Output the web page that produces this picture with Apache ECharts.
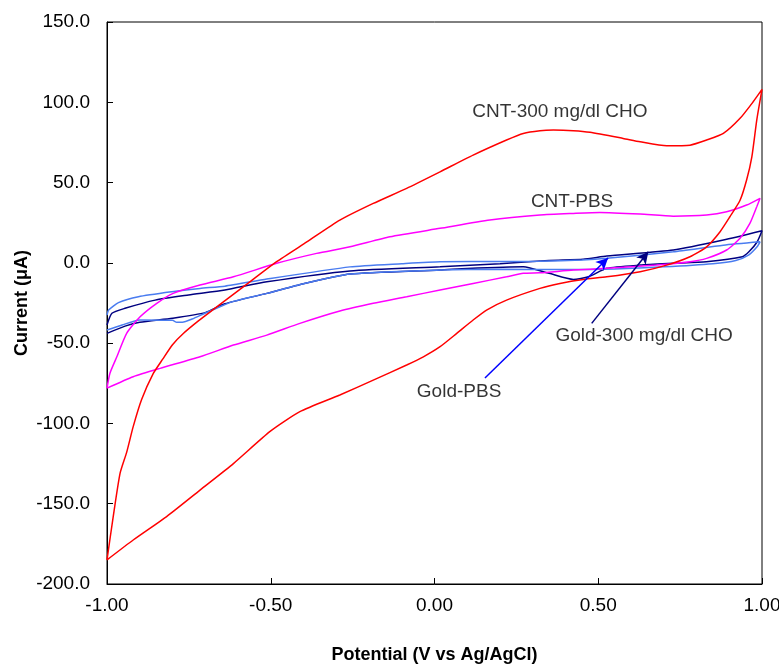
<!DOCTYPE html>
<html>
<head>
<meta charset="utf-8">
<script src="https://cdn.jsdelivr.net/npm/echarts@6/dist/echarts.min.js"></script>
<style>html,body{margin:0;padding:0;background:#fff}#c{width:779px;height:664px}</style>
</head>
<body>
<div id="c"></div>
<script>
// Potential (V) / Current (uA) pairs, loop order
var cntCho = [
[-1.000,-185],[-0.981,-158],[-0.960,-131],[-0.940,-118],[-0.920,-102],[-0.894,-85],[-0.859,-69],[-0.830,-60],[-0.800,-51],[-0.767,-44],[-0.720,-36],[-0.675,-29],[-0.584,-15],[-0.482,0.7],[-0.390,13],[-0.289,26.6],[-0.187,37],[-0.085,46.4],[0.017,56.7],[0.118,67.1],[0.220,76.5],[0.271,80.6],[0.322,82.3],[0.363,82.7],[0.424,82.3],[0.475,81.3],[0.576,77.5],[0.628,75.4],[0.709,72.9],[0.780,73.3],[0.831,76.5],[0.882,80.6],[0.933,90],[0.973,100.3],[1.000,108],
[0.984,88.9],[0.969,66],[0.953,51.6],[0.933,39],[0.902,28.7],[0.872,19.4],[0.831,10],[0.780,3.8],[0.709,-1.4],[0.628,-5.5],[0.526,-8.7],[0.454,-10.3],[0.383,-12.8],[0.322,-15.9],[0.220,-23.2],[0.159,-29.4],[0.118,-35.6],[0.068,-43.9],[0.017,-52.2],[-0.034,-58.5],[-0.085,-63.6],[-0.187,-73],[-0.289,-82.3],[-0.411,-92.7],[-0.502,-105],[-0.614,-125],[-0.716,-141.5],[-0.818,-158],[-0.920,-172.6],[-1.000,-185]
];
var cntPbs = [
[-1.000,-78],[-0.991,-68.7],[-0.970,-58.5],[-0.940,-43.9],[-0.899,-33.6],[-0.848,-25.2],[-0.798,-19],[-0.716,-13.8],[-0.614,-8.7],[-0.482,-0.3],[-0.360,5.9],[-0.258,10],[-0.136,16.3],[0.017,21.5],[0.169,26.7],[0.322,29.8],[0.424,30.8],[0.505,31.4],[0.628,30.4],[0.729,29.1],[0.831,29.8],[0.892,31.8],[0.953,36],[0.994,40.2],
[0.984,35],[0.963,24.6],[0.933,15.3],[0.892,8],[0.831,2.8],[0.780,0.7],[0.678,-1.4],[0.526,-3.4],[0.424,-4.5],[0.322,-6.2],[0.271,-6.5],[0.220,-8.7],[0.118,-12.8],[0.017,-16.9],[-0.085,-21.1],[-0.187,-25.2],[-0.289,-30],[-0.411,-37.7],[-0.512,-45],[-0.614,-51.2],[-0.716,-58.5],[-0.838,-65.7],[-0.920,-70.9],[-1.000,-78]
];
var goldPbs = [
[-1.000,-32.5],[-0.995,-29.4],[-0.965,-24.8],[-0.904,-21.1],[-0.802,-18],[-0.716,-15.9],[-0.640,-14.5],[-0.512,-10.1],[-0.258,-2.5],[-0.100,-0.5],[0.017,0.7],[0.200,0.8],[0.322,1.0],[0.450,1.8],[0.526,2.8],[0.729,6.9],[0.882,11],[0.994,13.1],
[0.985,10],[0.960,5],[0.920,1.5],[0.850,-0.5],[0.700,-2.5],[0.550,-3.8],[0.400,-4.2],[0.200,-4],[0.017,-4.5],[-0.258,-7],[-0.400,-13],[-0.512,-19],[-0.614,-24],[-0.655,-27.3],[-0.701,-31.4],[-0.740,-35],[-0.770,-37],[-0.787,-37],[-0.800,-35.8],[-0.900,-35.6],[-0.954,-38.7],[-1.000,-41.8]
];
var goldCho = [
[-1.000,-38.7],[-0.985,-31.4],[-0.945,-28.3],[-0.853,-23.2],[-0.751,-20],[-0.640,-16.9],[-0.512,-11.8],[-0.258,-5],[0.017,-2.4],[0.200,-0.5],[0.350,1.5],[0.454,2.2],[0.526,4.2],[0.729,8],[0.882,14.2],[1.000,20],
[0.985,13],[0.960,6.9],[0.940,3.8],[0.830,0.7],[0.729,-0.3],[0.628,-1.4],[0.526,-3.4],[0.470,-8.7],[0.424,-10.3],[0.350,-6.5],[0.271,-2.4],[0.100,-3.5],[0.017,-4.5],[-0.258,-7],[-0.400,-13],[-0.512,-19],[-0.640,-25.5],[-0.700,-31],[-0.800,-34.5],[-0.900,-37],[-0.945,-39.4],[-1.000,-43.9]
];
var annotations = [
  {name:'CNT-300 mg/dl CHO', value:[0.383, 93.9]},
  {name:'CNT-PBS', value:[0.420, 37.9]},
  {name:'Gold-300 mg/dl CHO', value:[0.640, -45.5]},
  {name:'Gold-PBS', value:[0.075, -80.4]}
];
var arrowPbs = [[0.154, -71.7], [0.530, 3.0]];
var arrowCho = [[0.480, -37.7], [0.653, 6.9]];
var xTicks = {min:-1, max:1, interval:0.5};
var yTicks = {min:-200, max:150, interval:50};

var FONT = 'Liberation Sans, Arial, sans-serif';
var chart = echarts.init(document.getElementById('c'), null, {renderer:'canvas'});
function curve(name, data, color, w){
  return {name:name, type:'line', data:data, showSymbol:false, symbol:'none', smooth:0.2,
    lineStyle:{color:color, width:w}, itemStyle:{color:color}, z:2, silent:true};
}
function arrow(pts, color){
  return {type:'line', data:[], silent:true, z:6, itemStyle:{color:color},
    markLine:{silent:true, animation:false, symbol:['none','arrow'], symbolSize:[9,12], label:{show:false},
      lineStyle:{color:color, width:1.5, type:'solid'}, itemStyle:{color:color},
      emphasis:{disabled:true},
      data:[[{coord:pts[0]}, {coord:pts[1]}]]}};
}
chart.setOption({
  animation:false,
  backgroundColor:'#fff',
  grid:{left:107, right:17, top:22, bottom:80, show:true, borderColor:'#000', borderWidth:1, backgroundColor:'transparent', outerBoundsMode:'none', containLabel:false},
  xAxis:{type:'value', min:xTicks.min, max:xTicks.max, interval:xTicks.interval,
    axisLine:{onZero:false, lineStyle:{color:'#000', width:1}},
    axisTick:{inside:true, length:6, lineStyle:{color:'#000'}},
    splitLine:{show:false},
    axisLabel:{color:'#000', fontFamily:FONT, fontSize:19, margin:12, formatter:function(v){return v.toFixed(2);}},
    name:'Potential (V vs Ag/AgCl)', nameLocation:'middle', nameGap:62, nameMoveOverlap:false,
    nameTextStyle:{color:'#000', fontFamily:FONT, fontSize:18, fontWeight:'bold'}},
  yAxis:{type:'value', min:yTicks.min, max:yTicks.max, interval:yTicks.interval,
    axisLine:{onZero:false, lineStyle:{color:'#000', width:1}},
    axisTick:{inside:true, length:6, lineStyle:{color:'#000'}},
    splitLine:{show:false},
    axisLabel:{color:'#000', fontFamily:FONT, fontSize:19, margin:17, formatter:function(v){return v.toFixed(1);}},
    name:'Current (\u03bcA)', nameLocation:'middle', nameGap:76, nameMoveOverlap:false,
    nameTextStyle:{color:'#000', fontFamily:FONT, fontSize:18, fontWeight:'bold'}},
  series:[
    curve('Gold-300 mg/dl CHO', goldCho, '#000080', 1.5),
    curve('Gold-PBS', goldPbs, '#4a7cf0', 1.5),
    curve('CNT-PBS', cntPbs, '#ff00ff', 1.5),
    curve('CNT-300 mg/dl CHO', cntCho, '#ff0000', 1.5),
    arrow(arrowPbs, '#0000ff'),
    arrow(arrowCho, '#000080'),
    {type:'scatter', data:annotations, symbolSize:0, silent:true, z:5,
      label:{show:true, position:'inside', formatter:'{b}', color:'#000', fontFamily:FONT, fontSize:19}}
  ]
});
</script>
</body>
</html>
